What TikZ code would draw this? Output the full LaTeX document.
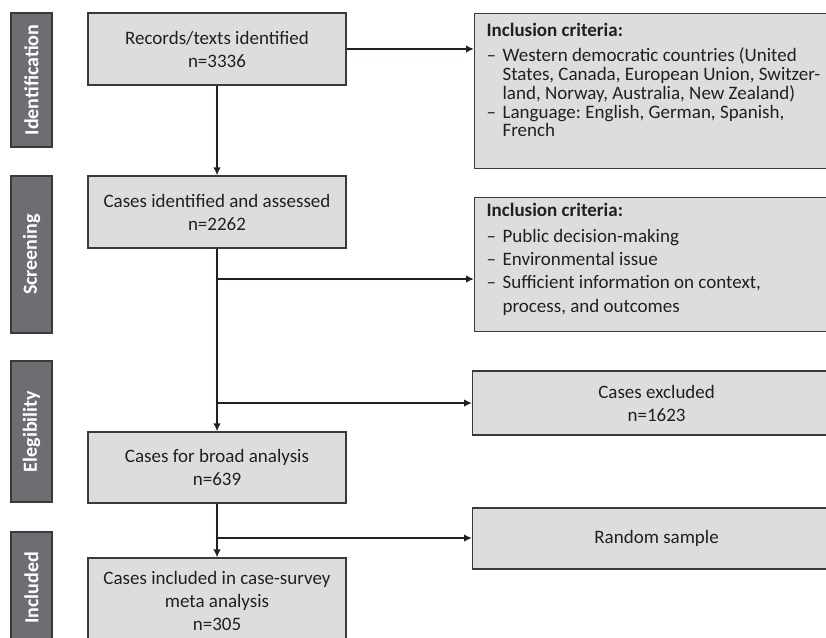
\documentclass[tikz,border=0pt]{standalone}
\usepackage{fontspec}
\setmainfont{Carlito}
\usetikzlibrary{arrows.meta,positioning,calc}
\definecolor{boxgray}{HTML}{DCDDDF}
\definecolor{bargray}{HTML}{6D6E71}
\definecolor{edgegray}{HTML}{3A3A3A}
\definecolor{inkgray}{HTML}{231F20}
\frenchspacing
\tikzset{%
	stage/.style  = {draw=edgegray, fill=bargray, line width=1.2pt, rotate=90, minimum height=41pt, inner sep=0pt, text=white, font=\fontsize{20}{23}\selectfont\bfseries}, % phase bar
	block/.style  = {draw=edgegray, fill=boxgray, line width=1.2pt, minimum width=258pt, inner sep=0pt, align=center, text=inkgray, font=\fontsize{19}{23}\selectfont}, % main column
	crit/.style   = {draw=edgegray, fill=boxgray, line width=1.2pt, anchor=north west, inner xsep=12pt, inner ysep=0pt, text=inkgray, font=\fontsize{19}{23}\selectfont}, % criteria
	side/.style   = {draw=edgegray, fill=boxgray, line width=1.2pt, anchor=west, minimum width=368pt, inner sep=0pt, align=center, text=inkgray, font=\fontsize{19}{23}\selectfont}, % side box
	arrow/.style  = {line width=2.6pt, draw=inkgray, -{Latex[length=8pt,width=7.5pt]}},
}
% criteria lists: fixed line pitch
\newcommand{\critlist}[2]{\vbox{\hsize=342pt\baselineskip=#1\lineskiplimit=-50pt\relax #2}}
\newcommand{\headline}[1]{\hbox to 342pt{\bfseries #1\hfil}}
\newcommand{\dashitem}[1]{\hbox to 342pt{\makebox[16pt][l]{–}#1\hfil}}
\newcommand{\hangline}[1]{\hbox to 342pt{\hspace*{16pt}#1\hfil}}

\begin{document}
\begin{tikzpicture}[x=1pt,y=-1pt]
	\useasboundingbox (0,0) rectangle (826,637);

	% phases
	\node [stage, minimum width=134pt] (ident) at (31.5,80) {Identification};
	\node [stage, minimum width=157pt] (screen) at (31.5,254.5) {Screening};
	\node [stage, minimum width=141pt] (elig) at (31.5,431.5) {Elegibility};
	\node [stage, minimum width=112pt] (incd) at (31.5,588) {Included};

	% main column
	\node [block, minimum height=72pt] (rec) at (217,49) {Records/texts identified\\n=3336};
	\node [block, minimum height=72pt] (assessed) [below of=rec, node distance=163pt] {Cases identified and assessed\\n=2262};
	\node [block, minimum height=71pt] (broad) [below of=assessed, node distance=255.5pt] {Cases for broad analysis\\n=639};
	\node [block, minimum height=86pt] (incl) [below of=broad, node distance=133.5pt] {Cases included in case-survey\\meta analysis\\n=305};

	% side boxes
	\node [crit, minimum height=155pt] (crit1) at (474,13) {\critlist{18.75pt}{%
		\headline{Inclusion criteria:}\vskip 6.25pt
		\dashitem{Western democratic countries (United}
		\hangline{States, Canada, European Union, Switzer-}
		\hangline{land, Norway, Australia, New Zealand)}
		\dashitem{Language: English, German, Spanish,}
		\hangline{French}\vskip 21.6pt}};
	\node [crit, minimum height=134pt] (crit2) at (474,197) {\critlist{23.3pt}{%
		\headline{Inclusion criteria:}\vskip 2.7pt
		\dashitem{Public decision-making}
		\dashitem{Environmental issue}
		\dashitem{Sufficient information on context,}
		\hangline{process, and outcomes}\vskip 11.2pt}};
	\node [side, minimum height=64pt] (excl) at (472,403) {Cases excluded\\n=1623};
	\node [side, minimum height=61pt] (rand) at (472,538.5) {Random sample};

	\coordinate (b1) at (217,279);
	\coordinate (b2) at (217,403);
	\coordinate (b3) at (217,538);

	\draw [arrow] (rec) -- (rec -| crit1.west);
	\draw [arrow] (rec) -- (assessed);
	\draw [arrow] (assessed) -- (broad);
	\draw [arrow] (broad) -- (incl);
	\draw [arrow] (b1) -- (b1 -| crit2.west);
	\draw [arrow] (b2) -- (b2 -| excl.west);
	\draw [arrow] (b3) -- (b3 -| rand.west);
\end{tikzpicture}
\end{document}
